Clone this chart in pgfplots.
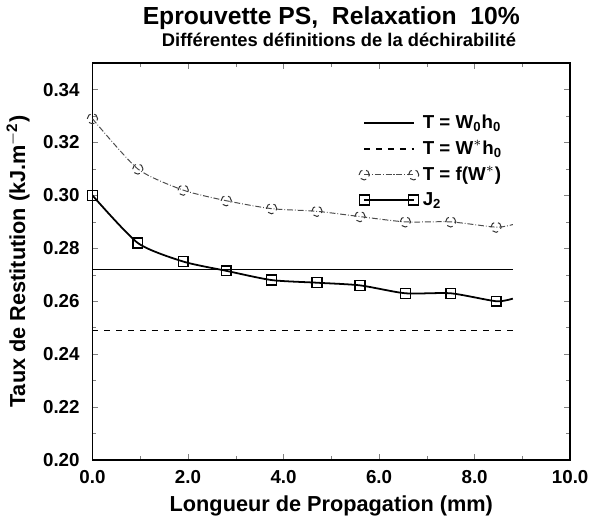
\documentclass[border=0pt]{standalone}
\usepackage{fontspec}
\setmainfont{Liberation Sans}
\usepackage{pgfplots}
\pgfplotsset{compat=1.18}

\begin{document}
\begin{tikzpicture}
\begin{axis}[
  scale only axis, width=242pt, height=201pt,
  xmin=0, xmax=10, ymin=0.20, ymax=0.35,
  xtick={0,2,...,10}, ytick={0.20,0.22,...,0.34},
  minor x tick num=1, minor y tick num=1,
  tick align=inside, major tick length=3pt, minor tick length=2pt,
  xticklabel style={yshift=-2pt, /pgf/number format/.cd, fixed, fixed zerofill, precision=1},
  yticklabel style={xshift=-3pt, /pgf/number format/.cd, fixed, fixed zerofill, precision=2},
  /pgf/number format/assume math mode=true,
  tick label style={font=\bfseries\fontsize{9.5}{11}\selectfont},
  label style={font=\bfseries\fontsize{11}{13}\selectfont},
  xlabel={Longueur de Propagation (mm)},
  ylabel={Taux de Restitution (kJ.m$^{\mathbf{-2}}$)},
  xlabel style={yshift=1pt}, ylabel style={yshift=0pt},
  title={\fontsize{12.5}{14}\selectfont Eprouvette PS,\ \ Relaxation\ \ 10\%\\[-1pt]
         \fontsize{9.3}{11}\selectfont\ \ \ Différentes définitions de la déchirabilité},
  title style={font=\bfseries, align=center, yshift=-1pt},
  axis line style={line width=0.9pt},
  legend style={draw=none, fill=none, at={(0.545,0.89)}, anchor=north west,
    font=\bfseries\fontsize{9.5}{11}\selectfont, row sep=0.5pt},
  legend cell align=left,
  legend image code/.code={\draw[#1] plot coordinates {(0cm,0cm) (0.88cm,0cm)};},
]
\addplot[black, line width=1.0pt] coordinates {(0,0.272) (8.8,0.272)};
\addlegendentry{T = W$_\mathbf{0}$h$_\mathbf{0}$}
\addplot[black, dashed, line width=0.8pt] coordinates {(0,0.249) (8.8,0.249)};
\addlegendentry{T = W$^{*}$h$_\mathbf{0}$}
\addplot[black!70, densely dashdotted, line width=0.5pt, smooth, tension=0.4,
  mark=o, mark size=2.6pt, mark indices={1,...,10},
  mark options={densely dashed, black!80, line width=0.5pt}] coordinates {
  (0,0.329) (0.95,0.310) (1.9,0.302) (2.8,0.298) (3.75,0.295) (4.7,0.294)
  (5.6,0.292) (6.55,0.290) (7.5,0.290) (8.45,0.288) (8.8,0.289)};
\addlegendentry{T = f(W$^{*}$)}
\addplot[black, line width=0.9pt, smooth, tension=0.4,
  mark=square, mark size=2.5pt, mark indices={1,...,10},
  mark options={solid, line width=0.7pt}] coordinates {
  (0,0.300) (0.95,0.282) (1.9,0.275) (2.8,0.2715) (3.75,0.268) (4.7,0.267)
  (5.6,0.266) (6.55,0.263) (7.5,0.263) (8.45,0.260) (8.8,0.261)};
\addlegendentry{J$_\mathbf{2}$}
\end{axis}
\end{tikzpicture}
\end{document}
